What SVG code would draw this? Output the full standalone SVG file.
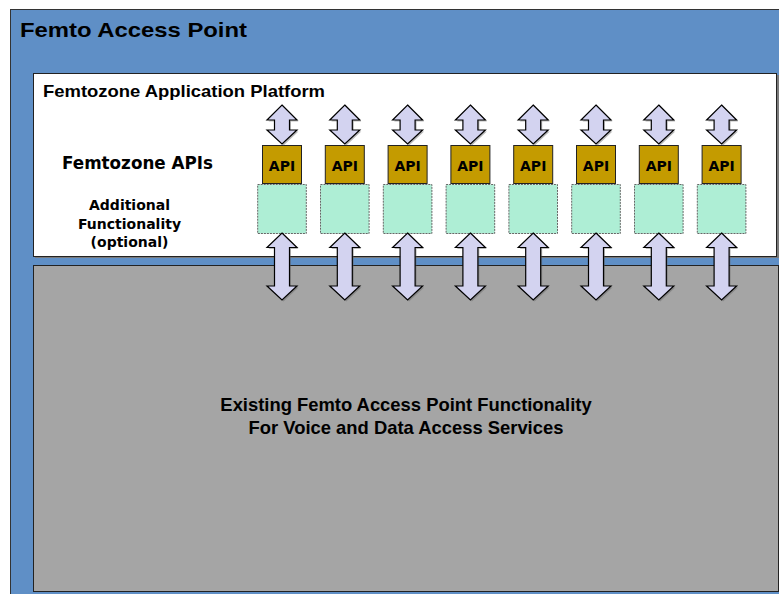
<svg xmlns="http://www.w3.org/2000/svg" xmlns:xlink="http://www.w3.org/1999/xlink" width="779" height="594" viewBox="0 0 779 594">
<style>
.t{font-family:"Liberation Sans",Arial,sans-serif;font-weight:bold;fill:#000}
.v{font-family:"DejaVu Sans",Verdana,sans-serif;font-weight:bold;fill:#000}
.api{fill:#c49b00;stroke:#222;stroke-width:1}
.fn{fill:#aeeed5;stroke:#666;stroke-width:1;stroke-dasharray:2 1}
.arr{fill:#d3d3f0;stroke:#000;stroke-width:1.2;stroke-linejoin:miter}
.sh{fill:#666;opacity:0.45}
</style>
<defs>
<polygon id="up" points="0,105 15,120 7.5,120 7.5,130 15,130 0,144 -15,130 -7.5,130 -7.5,120 -15,120"/>
<polygon id="dn" points="0,233 15,247.5 7.5,247.5 7.5,286 15,286 0,300 -15,286 -7.5,286 -7.5,247.5 -15,247.5"/>
</defs>
<g id="femto-access-point">
<rect x="10.5" y="9.5" width="775" height="590" fill="#5f8fc6" stroke="#333" stroke-width="1"/>
<text class="t" x="20" y="36.5" font-size="21" textLength="227" lengthAdjust="spacingAndGlyphs">Femto Access Point</text>
</g>
<g id="application-platform">
<rect x="35" y="75" width="744" height="183" fill="#7a7a7a"/>
<rect x="33.5" y="73.5" width="743" height="183" fill="#fff" stroke="#222" stroke-width="1"/>
<text class="t" x="43" y="96.5" font-size="16.5" textLength="282" lengthAdjust="spacingAndGlyphs">Femtozone Application Platform</text>
<text class="v" x="62" y="169" font-size="17" textLength="151" lengthAdjust="spacingAndGlyphs">Femtozone APIs</text>
<text class="v" font-size="14" text-anchor="middle"><tspan x="129.5" y="210">Additional</tspan><tspan x="129.5" y="229">Functionality</tspan><tspan x="129.5" y="247">(optional)</tspan></text>
</g>
<g id="existing-functionality">
<rect x="33.5" y="265.5" width="745" height="326" fill="#a5a5a5" stroke="#222" stroke-width="1"/>
<text class="t" font-size="18.4" text-anchor="middle"><tspan x="406" y="411">Existing Femto Access Point Functionality</tspan><tspan x="406" y="433.5">For Voice and Data Access Services</tspan></text>
</g>
<g id="api-1"><rect class="fn" x="257.7" y="184.5" width="48.6" height="49"/><rect class="api" x="262.5" y="145.5" width="39" height="38"/><text class="v" x="282" y="171" font-size="14" text-anchor="middle">API</text></g>
<g id="api-2"><rect class="fn" x="320.5" y="184.5" width="48.6" height="49"/><rect class="api" x="325.3" y="145.5" width="39" height="38"/><text class="v" x="344.8" y="171" font-size="14" text-anchor="middle">API</text></g>
<g id="api-3"><rect class="fn" x="383.3" y="184.5" width="48.6" height="49"/><rect class="api" x="388.1" y="145.5" width="39" height="38"/><text class="v" x="407.6" y="171" font-size="14" text-anchor="middle">API</text></g>
<g id="api-4"><rect class="fn" x="446.1" y="184.5" width="48.6" height="49"/><rect class="api" x="450.9" y="145.5" width="39" height="38"/><text class="v" x="470.4" y="171" font-size="14" text-anchor="middle">API</text></g>
<g id="api-5"><rect class="fn" x="508.9" y="184.5" width="48.6" height="49"/><rect class="api" x="513.7" y="145.5" width="39" height="38"/><text class="v" x="533.2" y="171" font-size="14" text-anchor="middle">API</text></g>
<g id="api-6"><rect class="fn" x="571.7" y="184.5" width="48.6" height="49"/><rect class="api" x="576.5" y="145.5" width="39" height="38"/><text class="v" x="596" y="171" font-size="14" text-anchor="middle">API</text></g>
<g id="api-7"><rect class="fn" x="634.5" y="184.5" width="48.6" height="49"/><rect class="api" x="639.3" y="145.5" width="39" height="38"/><text class="v" x="658.8" y="171" font-size="14" text-anchor="middle">API</text></g>
<g id="api-8"><rect class="fn" x="697.3" y="184.5" width="48.6" height="49"/><rect class="api" x="702.1" y="145.5" width="39" height="38"/><text class="v" x="721.6" y="171" font-size="14" text-anchor="middle">API</text></g>
<g id="connectors">
<g transform="translate(282,0)"><use xlink:href="#up" class="sh" x="1.5" y="1.5"/><use xlink:href="#up" class="arr"/><use xlink:href="#dn" class="sh" x="1.5" y="1.5"/><use xlink:href="#dn" class="arr"/></g>
<g transform="translate(344.8,0)"><use xlink:href="#up" class="sh" x="1.5" y="1.5"/><use xlink:href="#up" class="arr"/><use xlink:href="#dn" class="sh" x="1.5" y="1.5"/><use xlink:href="#dn" class="arr"/></g>
<g transform="translate(407.6,0)"><use xlink:href="#up" class="sh" x="1.5" y="1.5"/><use xlink:href="#up" class="arr"/><use xlink:href="#dn" class="sh" x="1.5" y="1.5"/><use xlink:href="#dn" class="arr"/></g>
<g transform="translate(470.4,0)"><use xlink:href="#up" class="sh" x="1.5" y="1.5"/><use xlink:href="#up" class="arr"/><use xlink:href="#dn" class="sh" x="1.5" y="1.5"/><use xlink:href="#dn" class="arr"/></g>
<g transform="translate(533.2,0)"><use xlink:href="#up" class="sh" x="1.5" y="1.5"/><use xlink:href="#up" class="arr"/><use xlink:href="#dn" class="sh" x="1.5" y="1.5"/><use xlink:href="#dn" class="arr"/></g>
<g transform="translate(596,0)"><use xlink:href="#up" class="sh" x="1.5" y="1.5"/><use xlink:href="#up" class="arr"/><use xlink:href="#dn" class="sh" x="1.5" y="1.5"/><use xlink:href="#dn" class="arr"/></g>
<g transform="translate(658.8,0)"><use xlink:href="#up" class="sh" x="1.5" y="1.5"/><use xlink:href="#up" class="arr"/><use xlink:href="#dn" class="sh" x="1.5" y="1.5"/><use xlink:href="#dn" class="arr"/></g>
<g transform="translate(721.6,0)"><use xlink:href="#up" class="sh" x="1.5" y="1.5"/><use xlink:href="#up" class="arr"/><use xlink:href="#dn" class="sh" x="1.5" y="1.5"/><use xlink:href="#dn" class="arr"/></g>
</g>
</svg>
